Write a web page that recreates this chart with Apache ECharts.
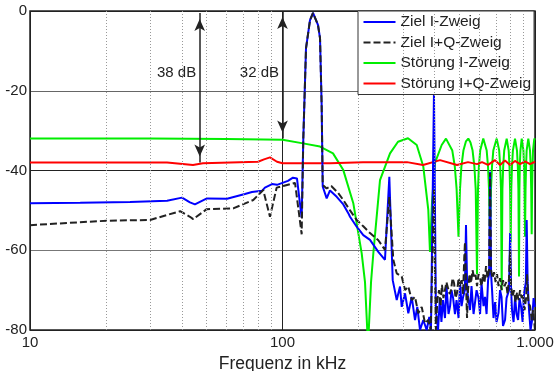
<!DOCTYPE html>
<html lang="de">
<head>
<meta charset="UTF-8">
<title>Frequenzgang Ziel / Störung</title>
<script src="https://cdn.jsdelivr.net/npm/echarts@6/dist/echarts.min.js"></script>
<style>
  html, body { margin: 0; padding: 0; background: #fff; }
  #chart { width: 555px; height: 371px; }
</style>
</head>
<body>
<div id="chart"></div>
<script>
// Frequenz in kHz, Pegel in dB
const zielIFreq = [10, 15.8, 24.9, 34.9, 40, 43, 45, 50.2, 60.3, 71, 75.7, 82.9, 85.2, 90.9, 95.1, 105.1, 110, 114.1,
  119.1, 120.9, 123.9, 128.5, 132.1, 134.5, 138.2, 140.8, 142.9, 144.3, 149.6, 154.2, 164, 174.1, 182.2, 185.1,
  196.7, 208.9, 222.1, 239.6, 254.6, 264.9, 273.2, 283.4, 292, 296.6, 305.7, 315, 324.9, 334.8, 341.9, 350.4,
  361.1, 372.4, 381.4, 387.3, 398, 405, 413, 420, 426, 432, 440, 446, 454.5, 461, 467, 474, 482, 489, 498, 505,
  512, 519, 527.5, 533, 539, 543, 553, 560.5, 571, 579, 587, 597.5, 606, 614, 625.5, 634, 643, 652, 658, 664,
  670, 676, 685, 695, 704, 717, 727, 737, 747, 761, 771.5, 782, 789, 797, 804, 811, 822.5, 834, 845, 857, 868.5,
  881, 893, 905, 920, 927, 935, 947, 960, 974, 987, 1000];
const zielIdB = [-48.2, -48.1, -47.9, -47.6, -46.8, -48, -48.5, -47, -47.1, -45.9, -45.4, -45.1, -44.3, -43.4, -43.6, -42.6, -41.8, -42,
  -51.9, -32, -9.4, -2.3, -0.5, 0, -3.5, -6.8, -23.6, -44, -47, -45, -46.6, -48.5, -50.7, -51.6,
  -54.1, -56.2, -57.4, -60.4, -62.4, -41.6, -67.5, -72.5, -69.1, -74.2, -70.8, -75.8, -71.7, -77.5, -74.2, -80,
  -77.5, -80, -76.7, -80, -20.6, -75, -80, -72, -78, -72.5, -77, -69, -76, -74, -70, -72, -76, -72.5, -77, -68,
  -74, -71.7, -70, -53.7, -70, -71.7, -75, -69, -76, -73, -70, -72, -76, -68.3, -74, -71.7, -76, -67.5, -66, -40.3,
  -66, -70, -77, -73, -78, -75.7, -70, -71.7, -79, -77.5, -72, -72.5, -70, -55.7, -70, -75, -78, -71.7, -76, -77.5, -72,
  -74.2, -78, -70.8, -68, -52.4, -68, -75, -80, -77.5, -72, -74.2];

const zielIQFreq = [10, 20.1, 29.9, 39.3, 43, 44.3, 50.1, 63.8, 76.6, 83.9, 89.2, 94.8, 100.7, 112.1,
  119.1, 120.9, 123.9, 128.5, 132.1, 134.5, 138.2, 140.8, 142.9, 144.3, 149.6, 156, 166, 174.1, 185.1,
  196.7, 208.9, 222.1, 239.6, 254.6, 264.9, 274.7, 283.4, 296.6, 305.7, 315, 324.9, 334.8, 345, 355.9,
  366.8, 377.9, 386.3, 398, 405, 411, 417, 422.5, 428, 434, 440, 446, 452, 459, 465, 471.5, 478, 484.5,
  491, 498, 505, 512, 519, 524.5, 528, 533, 538, 543, 550.5, 558, 566, 574, 581.5, 589.5, 597.5, 606, 614,
  623, 631, 640, 649, 658, 664, 670, 679, 688.5, 698, 707.5, 717, 727, 737, 747, 757.5, 768, 778.5, 789,
  797, 804, 815, 826, 837.5, 849, 861, 872.6, 885, 897, 909, 922, 930, 941, 956, 971, 982.5, 1000];
const zielIQdB = [-53.7, -52.6, -52.4, -50.2, -51.6, -52.2, -49.7, -49.5, -47.4, -44.9, -51.6, -44.3, -43.9, -43.1,
  -56, -32, -9.4, -2.3, -0.5, 0, -3.5, -6.8, -23.6, -43.6, -44.5, -43.9, -45.6, -47.4, -50,
  -52.4, -54, -55.7, -57.5, -59.9, -46.6, -62.4, -65.8, -66.6, -70, -69.1, -72.5, -71.7, -75.8, -74.2,
  -78.3, -77.5, -80, -44.9, -80, -72, -70, -74, -68.7, -72, -71.5, -68, -67.5, -71, -70, -67, -68.2, -72,
  -70.7, -67, -69, -67.5, -71, -62, -58, -68, -77, -70, -66, -68.2, -65, -67, -66.2, -69, -66, -67, -69,
  -66, -68.2, -64, -67, -65, -40.6, -65, -67, -65.5, -68, -66, -69, -67, -70, -67.5, -69, -68, -71, -67,
  -60, -69, -71.7, -70, -73, -70.5, -72.5, -70, -72, -71, -75, -72, -66, -73.2, -74, -77.5, -75, -80];

const stoerIFreq = [10, 30, 60, 100, 120.6, 140.8, 158.5, 174.1, 190.7, 205.9, 212.2, 218.1, 224.2, 229, 243.3,
  266.6, 286.7, 314.1, 340.1, 361.1, 377.9, 383.8, 390.9, 401.8, 427, 444.1, 470.4, 481.3, 489.2, 497.7,
  504.7, 511.1, 520.5, 532.5, 544.3, 555.3, 566, 575.4, 582.3, 589.3, 594.7, 599.5, 606.7, 624, 643.7,
  651.5, 657.4, 663.4, 669.4, 675.6, 683.7, 705.2, 721.4, 728.1, 733.4, 738.1, 742.9, 748.2, 755.1, 772.5,
  786.7, 792.5, 796.9, 801.2, 805.6, 810.8, 817.4, 833.3, 848.6, 854.9, 859.5, 864.3, 867.5, 870.7, 875.5,
  885.9, 899.9, 904.8, 909, 913.2, 917.4, 921.6, 926.6, 940.8, 955.4, 961.6, 965.9, 970.3, 973.9, 977.5,
  982, 993.7, 1000];
const stoerIdB = [-32, -32, -32.1, -32.3, -33.2, -34, -35.7, -39.9, -48.2, -60.8, -68, -84, -68, -60.7, -42.4,
  -35.7, -32.8, -31.9, -33.6, -39, -49.9, -60.4, -48, -38.1, -33.6, -32, -35, -39, -44.6, -56.6,
  -44.6, -39, -35, -32.7, -32, -33, -35, -39, -44.6, -66, -44.6, -39, -35, -32, -35,
  -39, -44.6, -57, -44.6, -39, -35, -32, -35, -39, -44.6, -70, -44.6, -39, -35, -32,
  -35, -39, -44.6, -58, -44.6, -39, -35, -32, -35, -39, -44.6, -66.6, -44.6, -39, -35,
  -32, -35, -39, -44.6, -56.6, -44.6, -39, -35, -32, -35, -39, -44.6, -56, -44.6, -39,
  -35, -32, -32.3];

const stoerIQFreq = [10, 34.9, 39.3, 44.2, 48.4, 80, 84.5, 89.2, 95.1, 100, 154.2, 208.3, 311.2, 360.1, 420.6,
  491, 542.8, 589.3, 616.8, 651.5, 694.4, 727, 760.6, 796.2, 833.3, 872, 913.2, 955.4, 1000];
const stoerIQdB = [-38, -38, -38.3, -38.6, -38.2, -37.8, -37.2, -36.7, -37.8, -38.2, -38.2, -37.9, -37.9, -38.6, -37.4,
  -38.6, -37.9, -38.4, -37.9, -38.6, -37.4, -38.6, -37.5, -38.6, -37.6, -38.4, -37.7, -38.4, -37.8];

// Achsen und Raster
const xTicks = [10, 100, 1000];
const xTickLabels = ['10', '100', '1.000'];
const minorGrid = [20, 30, 40, 50, 60, 70, 80, 90, 200, 300, 400, 500, 600, 700, 800, 900];

// Pfeile mit Abstandsangabe
const arrowFreq = [47, 100];
const arrowTop = [-0.5, 0];
const arrowBottom = [-38, -32];
const arrowText = ['38 dB', '32 dB'];
const arrowTextLevel = -15.5;

const font = "'Liberation Sans', Arial, sans-serif";
const zip = (xs, ys) => xs.map((x, i) => [x, ys[i]]);

const chart = echarts.init(document.getElementById('chart'));

const lineSeries = (name, freq, db, color, type, z) => ({
  name: name,
  type: 'line',
  data: zip(freq, db),
  showSymbol: false,
  symbol: 'none',
  clip: true,
  z: z,
  lineStyle: { color: color, width: 2, type: type },
  itemStyle: { color: color }
});

chart.setOption({
  animation: false,
  backgroundColor: '#fff',
  textStyle: { fontFamily: font },
  grid: {
    left: 30, top: 11, right: 20, bottom: 41,
    containLabel: false,
    outerBoundsMode: 'none',
    show: true, borderColor: '#222', borderWidth: 1.5, backgroundColor: '#fff'
  },
  legend: {
    orient: 'vertical',
    left: 358, top: 11,
    itemWidth: 32, itemHeight: 14, itemGap: 4.5,
    padding: [3, 3, 3, 4.5],
    backgroundColor: '#fff',
    borderColor: '#333', borderWidth: 1,
    itemStyle: { opacity: 0 },
    textStyle: { fontSize: 15.5, lineHeight: 15, color: '#222', fontFamily: font },
    data: ['Ziel I-Zweig', 'Ziel I+Q-Zweig', 'Störung I-Zweig', 'Störung I+Q-Zweig']
  },
  xAxis: {
    type: 'log',
    logBase: 10,
    min: 10, max: 1000,
    name: 'Frequenz in kHz',
    nameLocation: 'middle',
    nameGap: 17,
    nameTextStyle: { fontSize: 17.5, color: '#222', fontFamily: font },
    axisLine: { show: false },
    axisTick: { show: false },
    axisLabel: {
      fontSize: 15, color: '#222', margin: 5, fontFamily: font,
      showMinLabel: true, showMaxLabel: true,
      formatter: v => {
        const i = xTicks.findIndex(t => Math.abs(t - v) / t < 1e-6);
        return i >= 0 ? xTickLabels[i] : '';
      }
    },
    splitLine: { show: true, lineStyle: { color: '#222', width: 1 } }
  },
  yAxis: {
    type: 'value',
    min: -80, max: 0, interval: 20,
    axisLine: { show: false },
    axisTick: { show: false },
    axisLabel: { fontSize: 15, color: '#222', margin: 3, fontFamily: font },
    splitLine: { show: true, lineStyle: { color: ['#222', '#777', '#222', '#666', '#222'], width: 1 } }
  },
  series: [
    {
      name: 'raster',
      type: 'line',
      data: [],
      silent: true,
      z: 1,
      markLine: {
        silent: true,
        symbol: 'none',
        animation: false,
        label: { show: false },
        lineStyle: { color: '#999', width: 1, type: [1, 2] },
        data: minorGrid.map(v => ({ xAxis: v }))
      }
    },
    lineSeries('Störung I-Zweig', stoerIFreq, stoerIdB, '#00ee00', 'solid', 2),
    lineSeries('Störung I+Q-Zweig', stoerIQFreq, stoerIQdB, '#ff0000', 'solid', 2),
    lineSeries('Ziel I-Zweig', zielIFreq, zielIdB, '#0000ff', 'solid', 3),
    lineSeries('Ziel I+Q-Zweig', zielIQFreq, zielIQdB, '#222222', [7, 3], 3),
    {
      name: 'abstand',
      type: 'line',
      data: [],
      silent: true,
      z: 5,
      markLine: {
        silent: true,
        animation: false,
        symbol: ['arrow', 'arrow'],
        symbolSize: [8, 12],
        symbolOffset: [[0, 6], [0, 6]],
        label: { show: false },
        lineStyle: { color: '#222', width: 1.5, type: 'solid' },
        data: arrowFreq.map((f, i) => [{ coord: [f, arrowTop[i]] }, { coord: [f, arrowBottom[i]] }])
      },
      markPoint: {
        silent: true,
        animation: false,
        symbol: 'circle',
        symbolSize: 1,
        itemStyle: { color: 'rgba(0,0,0,0)' },
        label: {
          show: true, position: 'left', distance: 3,
          fontSize: 15, color: '#222', fontFamily: font,
          formatter: p => p.name
        },
        data: arrowFreq.map((f, i) => ({ name: arrowText[i], coord: [f, arrowTextLevel] }))
      }
    }
  ]
});
</script>
</body>
</html>
